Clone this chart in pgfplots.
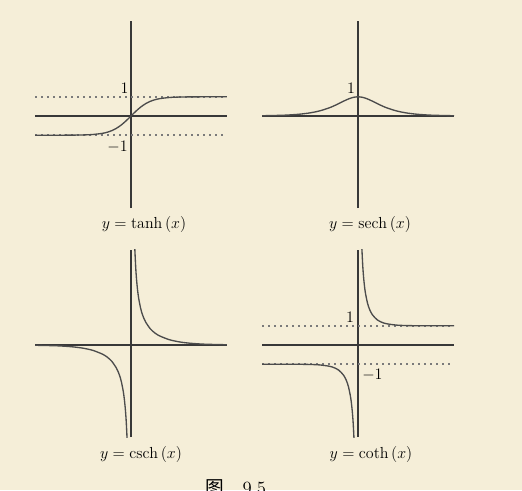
\documentclass[border=0pt]{standalone}
\usepackage{fontspec}
\usepackage{pgfplots}
\pgfplotsset{compat=1.18}
\newfontfamily\cjk{Noto Sans CJK SC}
\definecolor{bg}{HTML}{F5EED8}
\definecolor{ink}{HTML}{383838}
\definecolor{dotc}{HTML}{7A7A7A}
\pgfplotsset{
  hyp/.style={
    axis lines=middle,
    axis line style={-, line width=1.1pt, ink},
    xtick=\empty, ytick=\empty,
    x=14.4pt, y=14.4pt,
    xmin=-5, xmax=5, ymin=-4.8, ymax=4.95,
    anchor=origin,
    clip=true,
  },
  curve/.style={ink!90, line width=1pt, smooth, no marks},
  dots/.style={dotc, line width=1.3pt, dash pattern=on 1.3pt off 3.2pt, no marks},
}
\begin{document}
\begin{tikzpicture}[font=\fontsize{12}{14}\selectfont]
\useasboundingbox (0,0) rectangle (391.5pt,-367.5pt);
\clip (0,0) rectangle (391.5pt,-367.5pt);
\fill[bg] (0,0) rectangle (391.5pt,-367.5pt);

% tanh
\begin{axis}[hyp, at={(98.25pt,-87pt)}]
\addplot[dots] coordinates {(-5,1) (5,1)};
\addplot[dots] coordinates {(-5,-1) (5,-1)};
\addplot[curve] coordinates {
(-5,-0.9999) (-4,-0.9993) (-3.5,-0.9982) (-3,-0.9951) (-2.5,-0.9866) (-2,-0.9640)
(-1.5,-0.9051) (-1.25,-0.8483) (-1,-0.7616) (-0.75,-0.6351) (-0.5,-0.4621) (-0.25,-0.2449)
(0,0) (0.25,0.2449) (0.5,0.4621) (0.75,0.6351) (1,0.7616) (1.25,0.8483) (1.5,0.9051)
(2,0.9640) (2.5,0.9866) (3,0.9951) (3.5,0.9982) (4,0.9993) (5,0.9999)};
\node at (axis cs:-0.33,1.46) {$1$};
\node at (axis cs:-0.7,-1.6) {$-1$};
\end{axis}

% sech
\begin{axis}[hyp, at={(268.5pt,-87pt)}]
\addplot[curve] coordinates {
(-5,0.0135) (-4,0.0366) (-3.5,0.0603) (-3,0.0993) (-2.5,0.1631) (-2,0.2658)
(-1.5,0.4251) (-1.25,0.5295) (-1,0.6481) (-0.75,0.7724) (-0.5,0.8868) (-0.25,0.9695)
(0,1) (0.25,0.9695) (0.5,0.8868) (0.75,0.7724) (1,0.6481) (1.25,0.5295) (1.5,0.4251)
(2,0.2658) (2.5,0.1631) (3,0.0993) (3.5,0.0603) (4,0.0366) (5,0.0135)};
\node at (axis cs:-0.36,1.46) {$1$};
\end{axis}

% csch
\begin{axis}[hyp, at={(98.25pt,-258.75pt)}]
\addplot[curve] coordinates {
(0.19,5.23) (0.2,4.97) (0.25,3.96) (0.3,3.28) (0.35,2.80) (0.4,2.43) (0.5,1.919)
(0.6,1.571) (0.75,1.221) (1,0.851) (1.25,0.622) (1.5,0.470) (2,0.276) (2.5,0.165)
(3,0.0998) (3.5,0.0604) (4,0.0366) (5,0.0135)};
\addplot[curve] coordinates {
(-5,-0.0135) (-4,-0.0366) (-3.5,-0.0604) (-3,-0.0998) (-2.5,-0.165) (-2,-0.276)
(-1.5,-0.470) (-1.25,-0.622) (-1,-0.851) (-0.75,-1.221) (-0.6,-1.571) (-0.5,-1.919)
(-0.4,-2.43) (-0.35,-2.80) (-0.3,-3.28) (-0.25,-3.96) (-0.2,-4.97) (-0.19,-5.23)};
\end{axis}

% coth
\begin{axis}[hyp, at={(268.5pt,-258.75pt)}]
\addplot[dots] coordinates {(-5,1) (5,1)};
\addplot[dots] coordinates {(-5,-1) (5,-1)};
\addplot[curve] coordinates {
(0.19,5.33) (0.2,5.066) (0.25,4.083) (0.3,3.432) (0.35,2.969) (0.4,2.632) (0.5,2.164)
(0.6,1.862) (0.75,1.574) (1,1.313) (1.25,1.179) (1.5,1.105) (2,1.037) (2.5,1.0135)
(3,1.005) (3.5,1.0018) (4,1.0007) (5,1.0001)};
\addplot[curve] coordinates {
(-5,-1.0001) (-4,-1.0007) (-3.5,-1.0018) (-3,-1.005) (-2.5,-1.0135) (-2,-1.037)
(-1.5,-1.105) (-1.25,-1.179) (-1,-1.313) (-0.75,-1.574) (-0.6,-1.862) (-0.5,-2.164)
(-0.4,-2.632) (-0.35,-2.969) (-0.3,-3.432) (-0.25,-4.083) (-0.2,-5.066) (-0.19,-5.33)};
\node at (axis cs:-0.42,1.46) {$1$};
\node at (axis cs:0.75,-1.56) {$-1$};
\end{axis}

\node at (108pt,-168pt) {$y=\mathop{\mathrm{tanh}}\nolimits\,(x)$};
\node at (277.5pt,-168pt) {$y=\mathop{\mathrm{sech}}\nolimits\,(x)$};
\node at (105.75pt,-340.5pt) {$y=\mathop{\mathrm{csch}}\nolimits\,(x)$};
\node at (278.25pt,-340.5pt) {$y=\mathop{\mathrm{coth}}\nolimits\,(x)$};
\node[anchor=base west, font=\fontsize{14}{16}\selectfont, inner sep=0pt] at (153.75pt,-370.5pt) {{\cjk 图}\quad 9.5};
\end{tikzpicture}
\end{document}
